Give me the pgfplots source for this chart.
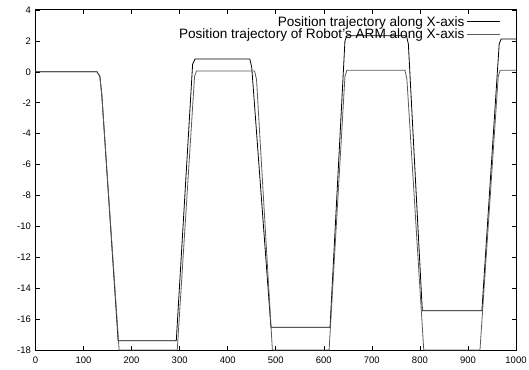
\documentclass[border=0pt]{standalone}
\usepackage{pgfplots}
\pgfplotsset{compat=1.18}
\usepackage{fontspec}
\setmainfont{Liberation Sans}
\begin{document}
\begin{tikzpicture}
\begin{axis}[
  name=ax,
  scale only axis,
  width=480.5pt, height=340pt,
  xmin=0, xmax=1000, ymin=-18, ymax=4,
  xtick={0,100,...,1000},
  ytick={-18,-16,...,4},
  tick align=inside,
  major tick length=4pt,
  tick style={black, line width=0.6pt},
  axis line style={black, line width=1pt},
  /pgf/number format/assume math mode=true,
  /pgf/number format/1000 sep={},
  tick label style={font=\fontsize{9.5}{10}\selectfont},
  yticklabel style={xshift=-1pt},
  xticklabel style={yshift=-3pt},
  legend cell align=right,
  legend plot pos=right,
  legend style={draw=none, fill=none, at={(1,1)}, anchor=north east,
    xshift=-15pt, yshift=-6pt, font=\fontsize{13.6}{13.6}\selectfont,
    row sep=1.5pt, inner sep=0pt,
    nodes={inner xsep=2.5pt, inner ysep=0pt}},
  legend image code/.code={\draw[#1] (0pt,0pt) -- (33pt,0pt);},
]
\addplot[black, line width=0.8pt] coordinates {
(0,0) (128,0) (134,-0.3) (138,-1.5) (172,-17.4) (293,-17.4) (327,0.5) (332,0.83)
(446,0.83) (450,0.3) (490,-16.53) (613,-16.53) (644,2.0) (648,2.34)
(772,2.34) (776,1.8) (805,-15.46) (929,-15.46) (965,1.8) (969,2.12) (1000,2.12)};
\addlegendentry{Position trajectory along X-axis}
\addplot[black!65, line width=0.8pt] coordinates {
(0,0) (128,0) (134,-0.3) (138,-1.5) (174,-18) (295,-18) (331,-0.3) (335,0.05)
(456,0.05) (460,-0.5) (493,-18) (611,-18) (644,-0.3) (648,0.1)
(769,0.1) (773,-0.5) (808,-18) (925,-18) (963,-0.3) (967,0.1) (1000,0.1)};
\addlegendentry{Position trajectory of Robot's ARM along X-axis}
\end{axis}
\pgfresetboundingbox
\path ([shift={(-35.5pt,-19pt)}]ax.south west) rectangle ([shift={(13pt,10pt)}]ax.north east);
\end{tikzpicture}
\end{document}
